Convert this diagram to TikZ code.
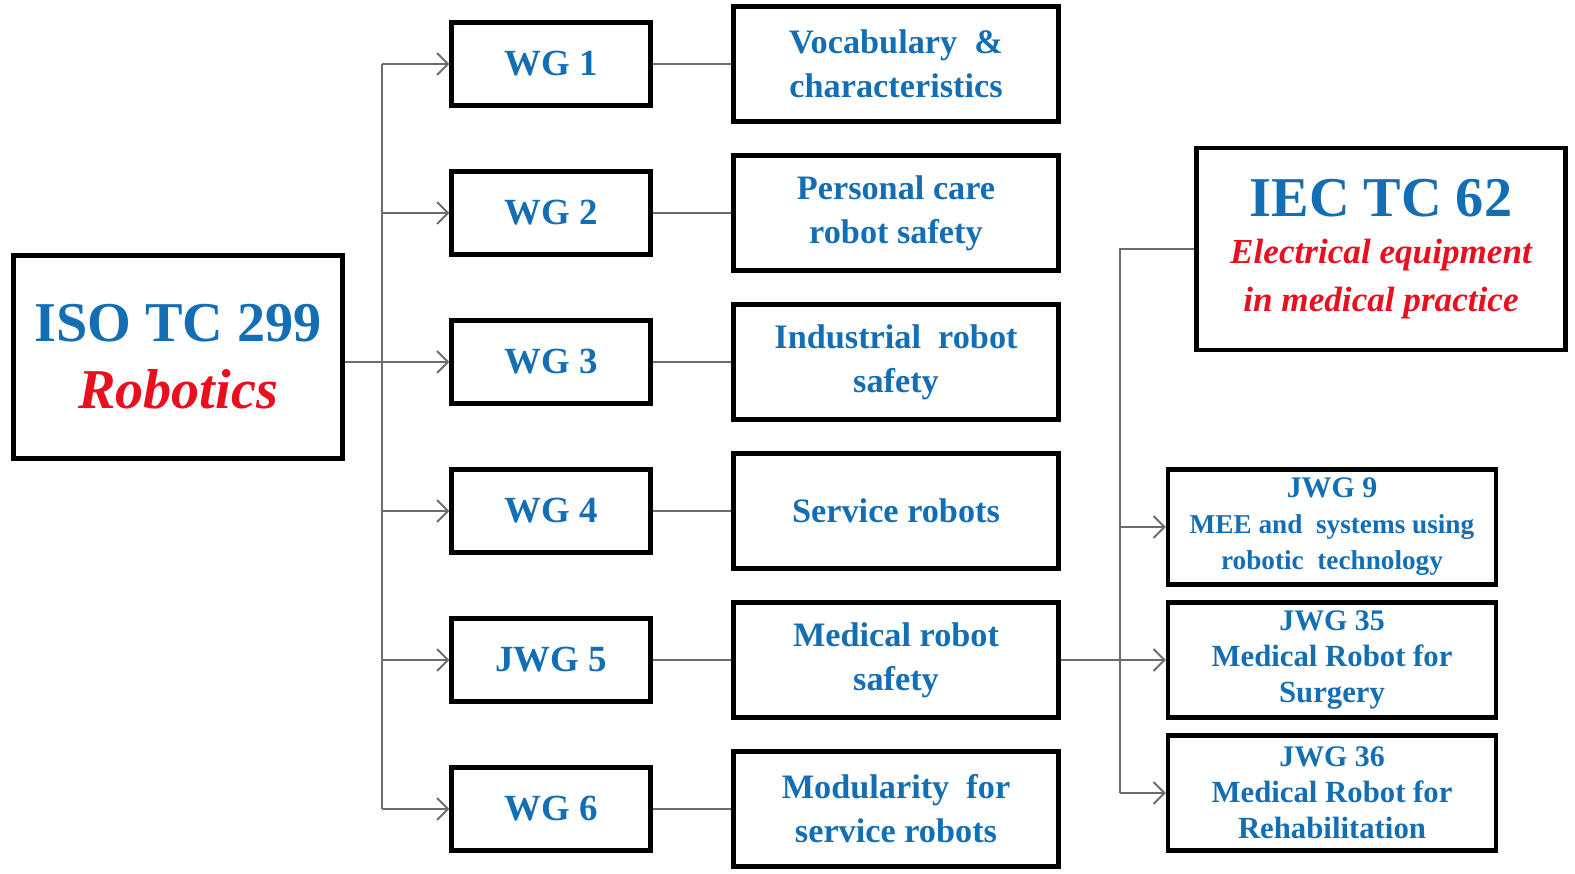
\documentclass[tikz,border=0pt]{standalone}
\usepackage{fontspec}
\setmainfont{Liberation Serif}
\usetikzlibrary{positioning,arrows.meta}
\definecolor{isoblue}{RGB}{20,110,180}
\definecolor{isored}{RGB}{232,16,30}

\tikzset{
  box/.style={draw,line width=2.4pt,align=center,text=isoblue,inner sep=2pt},
  wg/.style={box,minimum width=3.98cm,minimum height=1.66cm,font=\fontsize{21}{25}\selectfont\bfseries},
  task/.style={box,minimum width=6.5cm,minimum height=2.3cm,font=\fontsize{19.5}{25}\selectfont\bfseries},
  jwg/.style={box,minimum width=6.56cm,minimum height=2.3cm,font=\fontsize{17.5}{20.5}\selectfont\bfseries},
  link/.style={color=gray!85!black,line width=1.1pt},
  >={Straight Barb[length=2.2mm,width=4.4mm]}
}

\begin{document}
\begin{tikzpicture}[node distance=2.98cm,on grid]
  \useasboundingbox (0,0) rectangle (31.5,-17.46);

  % ISO side
  \node[box,minimum width=6.58cm,minimum height=4.06cm,font=\fontsize{32}{38}\selectfont\bfseries] (iso) at (3.56,-7.14)
    {ISO TC 299\\\textcolor{isored}{\itshape Robotics}};

  \node[wg] (wg1) at (11.02,-1.28) {WG 1};
  \node[wg] (wg2) [below = of wg1] {WG 2};
  \node[wg] (wg3) [below = of wg2] {WG 3};
  \node[wg] (wg4) [below = of wg3] {WG 4};
  \node[wg] (jwg5) [below = of wg4] {JWG 5};
  \node[wg] (wg6) [below = of jwg5] {WG 6};

  \node[task] (vocab) [right = 6.9cm of wg1] {Vocabulary \ \&\\characteristics};
  \node[task] (care) [right = 6.9cm of wg2] {Personal care\\robot safety};
  \node[task] (indus) [right = 6.9cm of wg3] {Industrial \ robot\\safety};
  \node[task] (serv) [right = 6.9cm of wg4] {Service robots};
  \node[task] (med) [right = 6.9cm of jwg5] {Medical robot\\safety};
  \node[task] (modul) [right = 6.9cm of wg6] {Modularity \ for\\service robots};

  % IEC side
  \node[box,minimum width=7.38cm,minimum height=4.04cm,font=\fontsize{20}{27}\selectfont\bfseries] (iec) at (27.62,-4.98)
    {{\fontsize{32}{38}\selectfont IEC TC 62}\\
     \textcolor{isored}{\itshape Electrical equipment}\\
     \textcolor{isored}{\itshape in medical practice}};

  \node[jwg] (jwg35) [right = 8.72cm of med] {{\fontsize{17}{20}\selectfont JWG 35}\\Medical Robot for\\Surgery};
  \node[jwg] (jwg9) [above = 2.66cm of jwg35] {{\fontsize{17}{20}\selectfont JWG 9}\\{\fontsize{15.5}{20}\selectfont MEE and \ systems using}\\{\fontsize{15.5}{20}\selectfont robotic \ technology}};
  \node[jwg] (jwg36) [below = 2.66cm of jwg35] {{\fontsize{17}{20}\selectfont JWG 36}\\Medical Robot for\\Rehabilitation};

  \coordinate (lbus) at (7.64,0);
  \coordinate (rbus) at (22.4,0);

  % connectors
  \draw[link] (lbus |- wg1.west) -- (lbus |- wg6.west);
  \path[link,->]
  (iso.east |- wg3.west) edge (wg3)
  (lbus |- wg1.west) edge (wg1)
  (lbus |- wg2.west) edge (wg2)
  (lbus |- wg4.west) edge (wg4)
  (lbus |- jwg5.west) edge (jwg5)
  (lbus |- wg6.west) edge (wg6)
  ;
  \path[link]
  (wg1) edge (vocab)
  (wg2) edge (care)
  (wg3) edge (indus)
  (wg4) edge (serv)
  (jwg5) edge (med)
  (wg6) edge (modul)
  ;
  \draw[link] (iec.west) -- (rbus |- iec.west) -- (rbus |- jwg36.west);
  \path[link,->]
  (rbus |- jwg9.west) edge (jwg9)
  (med) edge (jwg35)
  (rbus |- jwg36.west) edge (jwg36)
  ;
\end{tikzpicture}
\end{document}
